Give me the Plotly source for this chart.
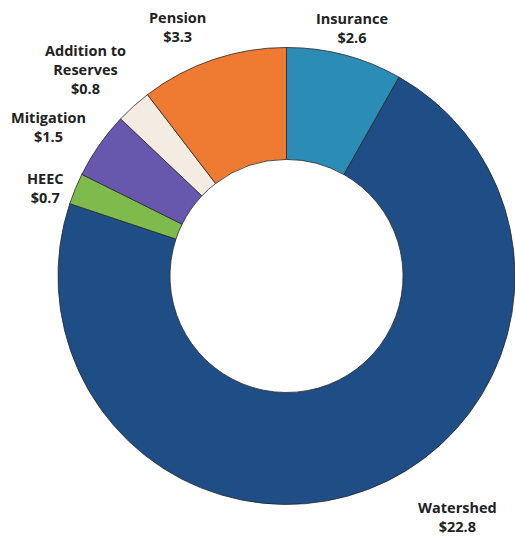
import plotly.graph_objects as go

# Budget allocation (millions of dollars), clockwise from 12 o'clock
labels = ["Insurance", "Watershed", "HEEC", "Mitigation", "Addition to<br>Reserves", "Pension"]
values = [2.6, 22.8, 0.7, 1.5, 0.8, 3.3]
colors = ["#2b8cb6", "#1f4d85", "#7fbb4c", "#6858ad", "#f4ece2", "#ef7a31"]

# Label anchor positions (pixels from top-left) for each slice's callout
label_x = [352, 457, 45, 48, 85, 177]
label_y = [28, 517, 188, 127, 69, 27]

W, H = 515, 539

fig = go.Figure()
fig.add_trace(go.Pie(
    labels=labels,
    values=values,
    hole=0.51,
    sort=False,
    direction="clockwise",
    rotation=0,
    marker=dict(colors=colors, line=dict(color="#2a2a2a", width=0.8)),
    textinfo="none",
    hoverinfo="label+value",
    showlegend=False,
    domain=dict(x=[58 / W, 1.0], y=[0.064, 0.912]),
))

for lab, val, x, y in zip(labels, values, label_x, label_y):
    fig.add_annotation(
        x=x / W, y=1 - y / H, xref="paper", yref="paper",
        text=f"{lab}<br>${val}",
        showarrow=False,
        xanchor="center", yanchor="middle",
        align="center",
        font=dict(family="Open Sans", size=14.5, color="#222222", weight="bold"),
    )

fig.update_layout(
    width=W, height=H,
    margin=dict(l=0, r=0, t=0, b=0),
    paper_bgcolor="white",
    plot_bgcolor="white",
)

fig.write_html("out.html")
